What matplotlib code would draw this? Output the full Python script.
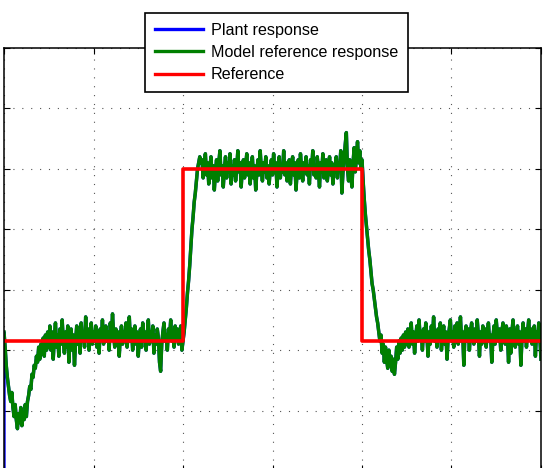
import matplotlib
matplotlib.use("Agg")
import matplotlib.pyplot as plt
import numpy as np

plt.rcParams['font.family'] = ['Liberation Sans', 'DejaVu Sans']

# model reference response, one sample every 0.125 s
# initial transient, t = 0 .. 5
transient = [
    0.06, 0.01, -0.05, -0.09, -0.12, -0.15, -0.17, -0.14, -0.19, -0.22,
    -0.18, -0.23, -0.26, -0.21, -0.24, -0.19, -0.25, -0.21, -0.23, -0.18,
    -0.22, -0.17, -0.15, -0.12, -0.13, -0.08, -0.09, -0.05, -0.06, -0.02,
    -0.04, 0.01, -0.03, 0.02, -0.01, 0.04, -0.02, 0.05, 0.00, 0.06, 0.01,
]
# low level, t = 5.125 .. 20
low_1 = [
    0.08, 0.00, 0.06, -0.03, 0.04, 0.09, 0.01, 0.05, -0.02, 0.07,
    0.02, 0.10, 0.03, -0.01, 0.06, 0.01, 0.08, -0.04, 0.04, 0.07,
    0.00, 0.05, -0.05, 0.03, 0.08, 0.02, 0.06, -0.01, 0.09, 0.03,
    0.06, 0.01, 0.11, 0.04, 0.07, 0.00, 0.05, 0.09, 0.02, 0.06,
    0.03, 0.08, 0.01, 0.06, -0.01, 0.07, 0.04, 0.10, 0.02, 0.05,
    0.08, 0.03, 0.06, 0.00, 0.09, 0.04, 0.12, 0.05, 0.01, 0.07,
    0.03, 0.06, -0.02, 0.05, 0.08, 0.02, 0.06, 0.04, 0.09, 0.01,
    0.05, 0.11, 0.03, 0.07, 0.00, 0.05, 0.08, 0.02, 0.06, -0.02,
    0.04, 0.07, 0.01, 0.09, 0.03, 0.06, 0.00, 0.05, 0.10, 0.02,
    0.06, 0.03, 0.08, -0.01, 0.05, 0.02, 0.07, 0.04, -0.04, -0.07,
    0.02, 0.06, 0.09, 0.03, 0.05, 0.00, 0.07, 0.04, 0.10, 0.03,
    0.06, 0.01, 0.08, 0.04, 0.07, 0.02, 0.05, 0.08, 0.00, 0.03,
]
# rise, t = 20.125 .. 22
rise = [
    0.06, 0.10, 0.14, 0.19, 0.23, 0.28, 0.34, 0.40,
    0.44, 0.49, 0.52, 0.56, 0.60, 0.62, 0.64, 0.62,
]
# high level, t = 22.125 .. 40
high = [
    0.63, 0.57, 0.61, 0.65, 0.58, 0.62, 0.55, 0.60, 0.64, 0.57,
    0.61, 0.53, 0.59, 0.63, 0.56, 0.62, 0.66, 0.58, 0.61, 0.54,
    0.60, 0.64, 0.57, 0.62, 0.59, 0.65, 0.55, 0.61, 0.58, 0.63,
    0.56, 0.60, 0.66, 0.59, 0.62, 0.54, 0.60, 0.63, 0.57, 0.61,
    0.65, 0.58, 0.62, 0.55, 0.60, 0.64, 0.57, 0.61, 0.53, 0.59,
    0.63, 0.58, 0.66, 0.60, 0.56, 0.62, 0.59, 0.64, 0.57, 0.61,
    0.55, 0.60, 0.63, 0.58, 0.65, 0.59, 0.62, 0.54, 0.60, 0.64,
    0.57, 0.61, 0.59, 0.66, 0.58, 0.62, 0.56, 0.60, 0.63, 0.55,
    0.61, 0.64, 0.58, 0.62, 0.53, 0.59, 0.63, 0.57, 0.65, 0.60,
    0.56, 0.62, 0.59, 0.64, 0.58, 0.61, 0.55, 0.63, 0.60, 0.66,
    0.58, 0.61, 0.57, 0.64, 0.60, 0.54, 0.62, 0.59, 0.65, 0.57,
    0.61, 0.63, 0.56, 0.60, 0.64, 0.58, 0.62, 0.55, 0.61, 0.59,
    0.64, 0.57, 0.62, 0.60, 0.66, 0.52, 0.59, 0.63, 0.68, 0.72,
    0.60, 0.56, 0.63, 0.58, 0.54, 0.62, 0.67, 0.59, 0.64, 0.69,
    0.62, 0.66, 0.60, 0.63,
]
# fall and undershoot, t = 40.125 .. 45
fall = [
    0.56, 0.50, 0.45, 0.41, 0.37, 0.33, 0.30, 0.26, 0.22, 0.20,
    0.17, 0.14, 0.11, 0.09, 0.06, 0.03, 0.05, -0.01, 0.02, -0.04,
    0.01, -0.03, -0.06, 0.00, -0.05, -0.02, -0.07, -0.03, -0.08, -0.04,
    0.01, -0.03, 0.03, -0.01, 0.04, 0.00, 0.05, 0.01, 0.06, 0.02,
]
# low level, t = 45.125 .. 60
low_2 = [
    0.07, 0.01, 0.05, 0.09, 0.02, 0.06, -0.01, 0.04, 0.08, 0.03,
    0.10, 0.04, 0.06, 0.00, 0.07, 0.03, 0.09, 0.05, -0.02, 0.06,
    0.02, 0.08, 0.04, 0.11, 0.03, 0.06, 0.01, 0.07, 0.04, 0.09,
    0.00, 0.05, 0.08, 0.02, 0.06, -0.03, 0.04, 0.07, 0.10, 0.03,
    0.06, 0.01, 0.08, 0.04, 0.09, 0.02, 0.05, 0.11, 0.03, 0.06,
    -0.05, 0.05, 0.08, 0.03, 0.07, 0.00, 0.06, 0.09, 0.04, 0.02,
    0.07, 0.03, 0.10, 0.05, -0.02, 0.06, 0.02, 0.08, 0.04, 0.07,
    0.01, 0.06, 0.09, 0.03, 0.05, -0.04, 0.04, 0.08, 0.02, 0.10,
    0.05, 0.03, 0.07, 0.00, 0.06, 0.09, 0.04, 0.02, 0.08, 0.05,
    -0.04, 0.07, -0.01, 0.06, 0.10, 0.04, 0.01, 0.05, 0.08, 0.02,
    0.06, -0.05, 0.04, 0.09, 0.03, 0.07, 0.01, 0.06, 0.10, 0.04,
    0.07, 0.02, 0.05, 0.08, -0.02, 0.06, 0.03, 0.09, 0.04, -0.03,
]
segments = [(0, 5, transient), (5.125, 20, low_1), (20.125, 22, rise),
            (22.125, 40, high), (40.125, 45, fall), (45.125, 60, low_2)]

t = np.concatenate([np.linspace(a, b, len(v)) for a, b, v in segments])
model_response = np.concatenate([v for a, b, v in segments])

# plant response: comes up from below the axis at t = 0, then tracks the model
plant_start = -0.6
plant_t = np.concatenate([[0.0], t])
plant_response = np.concatenate([[plant_start], model_response])

# reference step signal
ref_t = [0, 20, 20, 40, 40, 60]
ref_y = [0.03, 0.03, 0.60, 0.60, 0.03, 0.03]

fig = plt.figure(figsize=(5.46, 4.68), dpi=100)
ax = fig.add_axes([4/546, 1 - 471/468, 537/546, 423/468])

ax.plot(plant_t, plant_response, color='blue', lw=2.4, label='Plant response')
ax.plot(t, model_response, color='#007f00', lw=2.5, label='Model reference response')
ax.plot(ref_t, ref_y, color='red', lw=2.6, label='Reference')

ax.set_xlim(0, 60)
ax.set_ylim(-0.4, 1.0)
ax.set_xticks(np.arange(0, 61, 10))
ax.set_yticks(np.arange(-0.4, 1.01, 0.2))
ax.set_xticklabels([])
ax.set_yticklabels([])
ax.tick_params(direction='in', length=4, width=0.8, top=True, right=True)
ax.grid(True, linestyle=(0, (1, 7)), color='#555555', lw=0.8)
for s in ax.spines.values():
    s.set_linewidth(1.1)

leg = fig.legend(loc='upper left', bbox_to_anchor=(145/546, 1 - 13/468),
                 fontsize=11.6, fancybox=False, framealpha=1, edgecolor='black',
                 handlelength=3.0, handletextpad=0.5, borderpad=0.6,
                 labelspacing=0.46, borderaxespad=0)
leg.get_frame().set_linewidth(1.2)
for line in leg.get_lines():
    line.set_linewidth(2.4)

fig.savefig('out.png', dpi=100)
